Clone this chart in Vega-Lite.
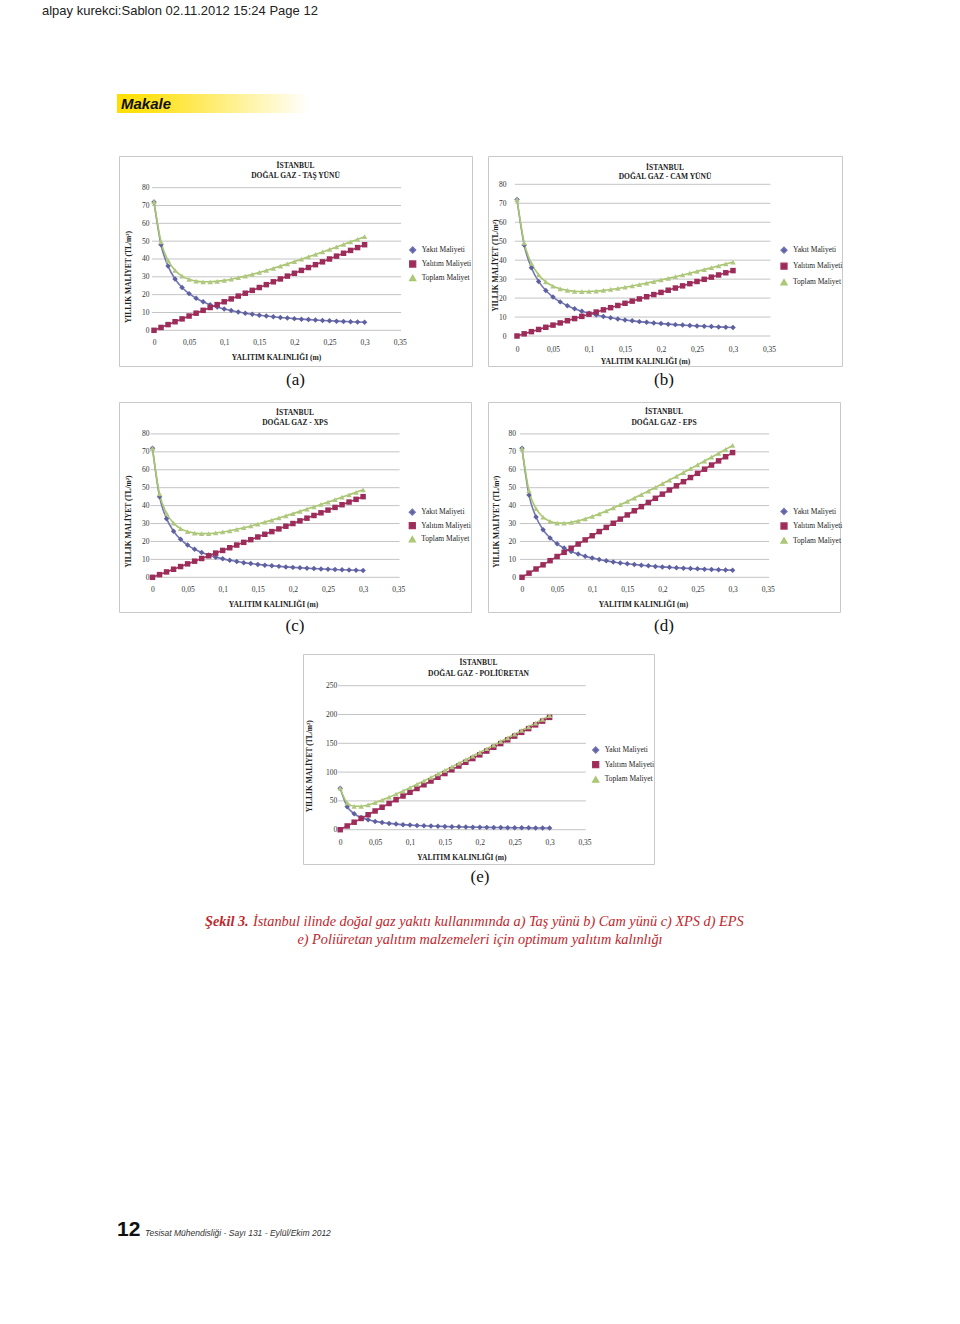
{
"$schema": "https://vega.github.io/schema/vega-lite/v6.json",
"padding": 0,
"background": "white",
"spacing": 0,
"bounds": "full",
"resolve": {"scale": {"color": "independent", "shape": "independent", "fill": "independent"}, "legend": {"color": "independent", "shape": "independent", "fill": "independent"}},
"config": {
  "view": {"stroke": null},
  "concat": {"spacing": 0},
  "axis": {"labelFont": "Liberation Serif", "labelFontSize": 7.5, "labelColor": "#333", "titleFont": "Liberation Serif", "titleFontSize": 7.5, "titleFontWeight": "bold", "titleColor": "#222", "ticks": false, "domain": false, "grid": false, "labelFlush": false, "labelOverlap": false, "labelBound": false, "titleAlign": "center", "titleBaseline": "middle"},
  "legend": {"padding": 0, "labelFont": "Liberation Serif", "labelFontSize": 7.5, "labelColor": "#222", "symbolSize": 36, "labelOffset": 5},
  "title": {"font": "Liberation Serif", "fontSize": 7.5, "fontWeight": "bold", "color": "#222", "anchor": "middle", "frame": "group", "lineHeight": 10}
},
"datasets": {
"a": [
{"x":0,"Yakıt Maliyeti":72,"Yalıtım Maliyeti":0,"Toplam Maliyet":72},
{"x":0.01,"Yakıt Maliyeti":48,"Yalıtım Maliyeti":1.6,"Toplam Maliyet":49.6},
{"x":0.02,"Yakıt Maliyeti":36,"Yalıtım Maliyeti":3.2,"Toplam Maliyet":39.2},
{"x":0.03,"Yakıt Maliyeti":28.8,"Yalıtım Maliyeti":4.8,"Toplam Maliyet":33.6},
{"x":0.04,"Yakıt Maliyeti":24,"Yalıtım Maliyeti":6.4,"Toplam Maliyet":30.4},
{"x":0.05,"Yakıt Maliyeti":20.57,"Yalıtım Maliyeti":8,"Toplam Maliyet":28.57},
{"x":0.06,"Yakıt Maliyeti":18,"Yalıtım Maliyeti":9.6,"Toplam Maliyet":27.6},
{"x":0.07,"Yakıt Maliyeti":16,"Yalıtım Maliyeti":11.2,"Toplam Maliyet":27.2},
{"x":0.08,"Yakıt Maliyeti":14.4,"Yalıtım Maliyeti":12.8,"Toplam Maliyet":27.2},
{"x":0.09,"Yakıt Maliyeti":13.09,"Yalıtım Maliyeti":14.4,"Toplam Maliyet":27.49},
{"x":0.1,"Yakıt Maliyeti":12,"Yalıtım Maliyeti":16,"Toplam Maliyet":28},
{"x":0.11,"Yakıt Maliyeti":11.08,"Yalıtım Maliyeti":17.6,"Toplam Maliyet":28.68},
{"x":0.12,"Yakıt Maliyeti":10.29,"Yalıtım Maliyeti":19.2,"Toplam Maliyet":29.49},
{"x":0.13,"Yakıt Maliyeti":9.6,"Yalıtım Maliyeti":20.8,"Toplam Maliyet":30.4},
{"x":0.14,"Yakıt Maliyeti":9,"Yalıtım Maliyeti":22.4,"Toplam Maliyet":31.4},
{"x":0.15,"Yakıt Maliyeti":8.47,"Yalıtım Maliyeti":24,"Toplam Maliyet":32.47},
{"x":0.16,"Yakıt Maliyeti":8,"Yalıtım Maliyeti":25.6,"Toplam Maliyet":33.6},
{"x":0.17,"Yakıt Maliyeti":7.58,"Yalıtım Maliyeti":27.2,"Toplam Maliyet":34.78},
{"x":0.18,"Yakıt Maliyeti":7.2,"Yalıtım Maliyeti":28.8,"Toplam Maliyet":36},
{"x":0.19,"Yakıt Maliyeti":6.86,"Yalıtım Maliyeti":30.4,"Toplam Maliyet":37.26},
{"x":0.2,"Yakıt Maliyeti":6.55,"Yalıtım Maliyeti":32,"Toplam Maliyet":38.55},
{"x":0.21,"Yakıt Maliyeti":6.26,"Yalıtım Maliyeti":33.6,"Toplam Maliyet":39.86},
{"x":0.22,"Yakıt Maliyeti":6,"Yalıtım Maliyeti":35.2,"Toplam Maliyet":41.2},
{"x":0.23,"Yakıt Maliyeti":5.76,"Yalıtım Maliyeti":36.8,"Toplam Maliyet":42.56},
{"x":0.24,"Yakıt Maliyeti":5.54,"Yalıtım Maliyeti":38.4,"Toplam Maliyet":43.94},
{"x":0.25,"Yakıt Maliyeti":5.33,"Yalıtım Maliyeti":40,"Toplam Maliyet":45.33},
{"x":0.26,"Yakıt Maliyeti":5.14,"Yalıtım Maliyeti":41.6,"Toplam Maliyet":46.74},
{"x":0.27,"Yakıt Maliyeti":4.97,"Yalıtım Maliyeti":43.2,"Toplam Maliyet":48.17},
{"x":0.28,"Yakıt Maliyeti":4.8,"Yalıtım Maliyeti":44.8,"Toplam Maliyet":49.6},
{"x":0.29,"Yakıt Maliyeti":4.65,"Yalıtım Maliyeti":46.4,"Toplam Maliyet":51.05},
{"x":0.3,"Yakıt Maliyeti":4.5,"Yalıtım Maliyeti":48,"Toplam Maliyet":52.5}
],
"b": [
{"x":0,"Yakıt Maliyeti":72,"Yalıtım Maliyeti":0,"Toplam Maliyet":72},
{"x":0.01,"Yakıt Maliyeti":48,"Yalıtım Maliyeti":1.15,"Toplam Maliyet":49.15},
{"x":0.02,"Yakıt Maliyeti":36,"Yalıtım Maliyeti":2.3,"Toplam Maliyet":38.3},
{"x":0.03,"Yakıt Maliyeti":28.8,"Yalıtım Maliyeti":3.45,"Toplam Maliyet":32.25},
{"x":0.04,"Yakıt Maliyeti":24,"Yalıtım Maliyeti":4.6,"Toplam Maliyet":28.6},
{"x":0.05,"Yakıt Maliyeti":20.57,"Yalıtım Maliyeti":5.75,"Toplam Maliyet":26.32},
{"x":0.06,"Yakıt Maliyeti":18,"Yalıtım Maliyeti":6.9,"Toplam Maliyet":24.9},
{"x":0.07,"Yakıt Maliyeti":16,"Yalıtım Maliyeti":8.05,"Toplam Maliyet":24.05},
{"x":0.08,"Yakıt Maliyeti":14.4,"Yalıtım Maliyeti":9.2,"Toplam Maliyet":23.6},
{"x":0.09,"Yakıt Maliyeti":13.09,"Yalıtım Maliyeti":10.35,"Toplam Maliyet":23.44},
{"x":0.1,"Yakıt Maliyeti":12,"Yalıtım Maliyeti":11.5,"Toplam Maliyet":23.5},
{"x":0.11,"Yakıt Maliyeti":11.08,"Yalıtım Maliyeti":12.65,"Toplam Maliyet":23.73},
{"x":0.12,"Yakıt Maliyeti":10.29,"Yalıtım Maliyeti":13.8,"Toplam Maliyet":24.09},
{"x":0.13,"Yakıt Maliyeti":9.6,"Yalıtım Maliyeti":14.95,"Toplam Maliyet":24.55},
{"x":0.14,"Yakıt Maliyeti":9,"Yalıtım Maliyeti":16.1,"Toplam Maliyet":25.1},
{"x":0.15,"Yakıt Maliyeti":8.47,"Yalıtım Maliyeti":17.25,"Toplam Maliyet":25.72},
{"x":0.16,"Yakıt Maliyeti":8,"Yalıtım Maliyeti":18.4,"Toplam Maliyet":26.4},
{"x":0.17,"Yakıt Maliyeti":7.58,"Yalıtım Maliyeti":19.55,"Toplam Maliyet":27.13},
{"x":0.18,"Yakıt Maliyeti":7.2,"Yalıtım Maliyeti":20.7,"Toplam Maliyet":27.9},
{"x":0.19,"Yakıt Maliyeti":6.86,"Yalıtım Maliyeti":21.85,"Toplam Maliyet":28.71},
{"x":0.2,"Yakıt Maliyeti":6.55,"Yalıtım Maliyeti":23,"Toplam Maliyet":29.55},
{"x":0.21,"Yakıt Maliyeti":6.26,"Yalıtım Maliyeti":24.15,"Toplam Maliyet":30.41},
{"x":0.22,"Yakıt Maliyeti":6,"Yalıtım Maliyeti":25.3,"Toplam Maliyet":31.3},
{"x":0.23,"Yakıt Maliyeti":5.76,"Yalıtım Maliyeti":26.45,"Toplam Maliyet":32.21},
{"x":0.24,"Yakıt Maliyeti":5.54,"Yalıtım Maliyeti":27.6,"Toplam Maliyet":33.14},
{"x":0.25,"Yakıt Maliyeti":5.33,"Yalıtım Maliyeti":28.75,"Toplam Maliyet":34.08},
{"x":0.26,"Yakıt Maliyeti":5.14,"Yalıtım Maliyeti":29.9,"Toplam Maliyet":35.04},
{"x":0.27,"Yakıt Maliyeti":4.97,"Yalıtım Maliyeti":31.05,"Toplam Maliyet":36.02},
{"x":0.28,"Yakıt Maliyeti":4.8,"Yalıtım Maliyeti":32.2,"Toplam Maliyet":37},
{"x":0.29,"Yakıt Maliyeti":4.65,"Yalıtım Maliyeti":33.35,"Toplam Maliyet":38},
{"x":0.3,"Yakıt Maliyeti":4.5,"Yalıtım Maliyeti":34.5,"Toplam Maliyet":39}
],
"c": [
{"x":0,"Yakıt Maliyeti":72,"Yalıtım Maliyeti":0,"Toplam Maliyet":72},
{"x":0.01,"Yakıt Maliyeti":45,"Yalıtım Maliyeti":1.5,"Toplam Maliyet":46.5},
{"x":0.02,"Yakıt Maliyeti":32.73,"Yalıtım Maliyeti":3,"Toplam Maliyet":35.73},
{"x":0.03,"Yakıt Maliyeti":25.71,"Yalıtım Maliyeti":4.5,"Toplam Maliyet":30.21},
{"x":0.04,"Yakıt Maliyeti":21.18,"Yalıtım Maliyeti":6,"Toplam Maliyet":27.18},
{"x":0.05,"Yakıt Maliyeti":18,"Yalıtım Maliyeti":7.5,"Toplam Maliyet":25.5},
{"x":0.06,"Yakıt Maliyeti":15.65,"Yalıtım Maliyeti":9,"Toplam Maliyet":24.65},
{"x":0.07,"Yakıt Maliyeti":13.85,"Yalıtım Maliyeti":10.5,"Toplam Maliyet":24.35},
{"x":0.08,"Yakıt Maliyeti":12.41,"Yalıtım Maliyeti":12,"Toplam Maliyet":24.41},
{"x":0.09,"Yakıt Maliyeti":11.25,"Yalıtım Maliyeti":13.5,"Toplam Maliyet":24.75},
{"x":0.1,"Yakıt Maliyeti":10.29,"Yalıtım Maliyeti":15,"Toplam Maliyet":25.29},
{"x":0.11,"Yakıt Maliyeti":9.47,"Yalıtım Maliyeti":16.5,"Toplam Maliyet":25.97},
{"x":0.12,"Yakıt Maliyeti":8.78,"Yalıtım Maliyeti":18,"Toplam Maliyet":26.78},
{"x":0.13,"Yakıt Maliyeti":8.18,"Yalıtım Maliyeti":19.5,"Toplam Maliyet":27.68},
{"x":0.14,"Yakıt Maliyeti":7.66,"Yalıtım Maliyeti":21,"Toplam Maliyet":28.66},
{"x":0.15,"Yakıt Maliyeti":7.2,"Yalıtım Maliyeti":22.5,"Toplam Maliyet":29.7},
{"x":0.16,"Yakıt Maliyeti":6.79,"Yalıtım Maliyeti":24,"Toplam Maliyet":30.79},
{"x":0.17,"Yakıt Maliyeti":6.43,"Yalıtım Maliyeti":25.5,"Toplam Maliyet":31.93},
{"x":0.18,"Yakıt Maliyeti":6.1,"Yalıtım Maliyeti":27,"Toplam Maliyet":33.1},
{"x":0.19,"Yakıt Maliyeti":5.81,"Yalıtım Maliyeti":28.5,"Toplam Maliyet":34.31},
{"x":0.2,"Yakıt Maliyeti":5.54,"Yalıtım Maliyeti":30,"Toplam Maliyet":35.54},
{"x":0.21,"Yakıt Maliyeti":5.29,"Yalıtım Maliyeti":31.5,"Toplam Maliyet":36.79},
{"x":0.22,"Yakıt Maliyeti":5.07,"Yalıtım Maliyeti":33,"Toplam Maliyet":38.07},
{"x":0.23,"Yakıt Maliyeti":4.86,"Yalıtım Maliyeti":34.5,"Toplam Maliyet":39.36},
{"x":0.24,"Yakıt Maliyeti":4.68,"Yalıtım Maliyeti":36,"Toplam Maliyet":40.68},
{"x":0.25,"Yakıt Maliyeti":4.5,"Yalıtım Maliyeti":37.5,"Toplam Maliyet":42},
{"x":0.26,"Yakıt Maliyeti":4.34,"Yalıtım Maliyeti":39,"Toplam Maliyet":43.34},
{"x":0.27,"Yakıt Maliyeti":4.19,"Yalıtım Maliyeti":40.5,"Toplam Maliyet":44.69},
{"x":0.28,"Yakıt Maliyeti":4.04,"Yalıtım Maliyeti":42,"Toplam Maliyet":46.04},
{"x":0.29,"Yakıt Maliyeti":3.91,"Yalıtım Maliyeti":43.5,"Toplam Maliyet":47.41},
{"x":0.3,"Yakıt Maliyeti":3.79,"Yalıtım Maliyeti":45,"Toplam Maliyet":48.79}
],
"d": [
{"x":0,"Yakıt Maliyeti":72,"Yalıtım Maliyeti":0,"Toplam Maliyet":72},
{"x":0.01,"Yakıt Maliyeti":45.86,"Yalıtım Maliyeti":2.32,"Toplam Maliyet":48.18},
{"x":0.02,"Yakıt Maliyeti":33.64,"Yalıtım Maliyeti":4.64,"Toplam Maliyet":38.28},
{"x":0.03,"Yakıt Maliyeti":26.57,"Yalıtım Maliyeti":6.96,"Toplam Maliyet":33.53},
{"x":0.04,"Yakıt Maliyeti":21.95,"Yalıtım Maliyeti":9.28,"Toplam Maliyet":31.23},
{"x":0.05,"Yakıt Maliyeti":18.7,"Yalıtım Maliyeti":11.6,"Toplam Maliyet":30.3},
{"x":0.06,"Yakıt Maliyeti":16.29,"Yalıtım Maliyeti":13.92,"Toplam Maliyet":30.21},
{"x":0.07,"Yakıt Maliyeti":14.43,"Yalıtım Maliyeti":16.24,"Toplam Maliyet":30.67},
{"x":0.08,"Yakıt Maliyeti":12.95,"Yalıtım Maliyeti":18.56,"Toplam Maliyet":31.51},
{"x":0.09,"Yakıt Maliyeti":11.75,"Yalıtım Maliyeti":20.88,"Toplam Maliyet":32.63},
{"x":0.1,"Yakıt Maliyeti":10.75,"Yalıtım Maliyeti":23.2,"Toplam Maliyet":33.95},
{"x":0.11,"Yakıt Maliyeti":9.9,"Yalıtım Maliyeti":25.52,"Toplam Maliyet":35.42},
{"x":0.12,"Yakıt Maliyeti":9.18,"Yalıtım Maliyeti":27.84,"Toplam Maliyet":37.02},
{"x":0.13,"Yakıt Maliyeti":8.56,"Yalıtım Maliyeti":30.16,"Toplam Maliyet":38.72},
{"x":0.14,"Yakıt Maliyeti":8.02,"Yalıtım Maliyeti":32.48,"Toplam Maliyet":40.5},
{"x":0.15,"Yakıt Maliyeti":7.54,"Yalıtım Maliyeti":34.8,"Toplam Maliyet":42.34},
{"x":0.16,"Yakıt Maliyeti":7.11,"Yalıtım Maliyeti":37.12,"Toplam Maliyet":44.23},
{"x":0.17,"Yakıt Maliyeti":6.74,"Yalıtım Maliyeti":39.44,"Toplam Maliyet":46.18},
{"x":0.18,"Yakıt Maliyeti":6.39,"Yalıtım Maliyeti":41.76,"Toplam Maliyet":48.15},
{"x":0.19,"Yakıt Maliyeti":6.09,"Yalıtım Maliyeti":44.08,"Toplam Maliyet":50.17},
{"x":0.2,"Yakıt Maliyeti":5.81,"Yalıtım Maliyeti":46.4,"Toplam Maliyet":52.21},
{"x":0.21,"Yakıt Maliyeti":5.55,"Yalıtım Maliyeti":48.72,"Toplam Maliyet":54.27},
{"x":0.22,"Yakıt Maliyeti":5.32,"Yalıtım Maliyeti":51.04,"Toplam Maliyet":56.36},
{"x":0.23,"Yakıt Maliyeti":5.1,"Yalıtım Maliyeti":53.36,"Toplam Maliyet":58.46},
{"x":0.24,"Yakıt Maliyeti":4.9,"Yalıtım Maliyeti":55.68,"Toplam Maliyet":60.58},
{"x":0.25,"Yakıt Maliyeti":4.72,"Yalıtım Maliyeti":58,"Toplam Maliyet":62.72},
{"x":0.26,"Yakıt Maliyeti":4.55,"Yalıtım Maliyeti":60.32,"Toplam Maliyet":64.87},
{"x":0.27,"Yakıt Maliyeti":4.39,"Yalıtım Maliyeti":62.64,"Toplam Maliyet":67.03},
{"x":0.28,"Yakıt Maliyeti":4.25,"Yalıtım Maliyeti":64.96,"Toplam Maliyet":69.21},
{"x":0.29,"Yakıt Maliyeti":4.11,"Yalıtım Maliyeti":67.28,"Toplam Maliyet":71.39},
{"x":0.3,"Yakıt Maliyeti":3.98,"Yalıtım Maliyeti":69.6,"Toplam Maliyet":73.58}
],
"e": [
{"x":0,"Yakıt Maliyeti":72,"Yalıtım Maliyeti":0,"Toplam Maliyet":72},
{"x":0.01,"Yakıt Maliyeti":40,"Yalıtım Maliyeti":6.5,"Toplam Maliyet":46.5},
{"x":0.02,"Yakıt Maliyeti":27.69,"Yalıtım Maliyeti":13,"Toplam Maliyet":40.69},
{"x":0.03,"Yakıt Maliyeti":21.18,"Yalıtım Maliyeti":19.5,"Toplam Maliyet":40.68},
{"x":0.04,"Yakıt Maliyeti":17.14,"Yalıtım Maliyeti":26,"Toplam Maliyet":43.14},
{"x":0.05,"Yakıt Maliyeti":14.4,"Yalıtım Maliyeti":32.5,"Toplam Maliyet":46.9},
{"x":0.06,"Yakıt Maliyeti":12.41,"Yalıtım Maliyeti":39,"Toplam Maliyet":51.41},
{"x":0.07,"Yakıt Maliyeti":10.91,"Yalıtım Maliyeti":45.5,"Toplam Maliyet":56.41},
{"x":0.08,"Yakıt Maliyeti":9.73,"Yalıtım Maliyeti":52,"Toplam Maliyet":61.73},
{"x":0.09,"Yakıt Maliyeti":8.78,"Yalıtım Maliyeti":58.5,"Toplam Maliyet":67.28},
{"x":0.1,"Yakıt Maliyeti":8,"Yalıtım Maliyeti":65,"Toplam Maliyet":73},
{"x":0.11,"Yakıt Maliyeti":7.35,"Yalıtım Maliyeti":71.5,"Toplam Maliyet":78.85},
{"x":0.12,"Yakıt Maliyeti":6.79,"Yalıtım Maliyeti":78,"Toplam Maliyet":84.79},
{"x":0.13,"Yakıt Maliyeti":6.32,"Yalıtım Maliyeti":84.5,"Toplam Maliyet":90.82},
{"x":0.14,"Yakıt Maliyeti":5.9,"Yalıtım Maliyeti":91,"Toplam Maliyet":96.9},
{"x":0.15,"Yakıt Maliyeti":5.54,"Yalıtım Maliyeti":97.5,"Toplam Maliyet":103.04},
{"x":0.16,"Yakıt Maliyeti":5.22,"Yalıtım Maliyeti":104,"Toplam Maliyet":109.22},
{"x":0.17,"Yakıt Maliyeti":4.93,"Yalıtım Maliyeti":110.5,"Toplam Maliyet":115.43},
{"x":0.18,"Yakıt Maliyeti":4.68,"Yalıtım Maliyeti":117,"Toplam Maliyet":121.68},
{"x":0.19,"Yakıt Maliyeti":4.44,"Yalıtım Maliyeti":123.5,"Toplam Maliyet":127.94},
{"x":0.2,"Yakıt Maliyeti":4.24,"Yalıtım Maliyeti":130,"Toplam Maliyet":134.24},
{"x":0.21,"Yakıt Maliyeti":4.04,"Yalıtım Maliyeti":136.5,"Toplam Maliyet":140.54},
{"x":0.22,"Yakıt Maliyeti":3.87,"Yalıtım Maliyeti":143,"Toplam Maliyet":146.87},
{"x":0.23,"Yakıt Maliyeti":3.71,"Yalıtım Maliyeti":149.5,"Toplam Maliyet":153.21},
{"x":0.24,"Yakıt Maliyeti":3.56,"Yalıtım Maliyeti":156,"Toplam Maliyet":159.56},
{"x":0.25,"Yakıt Maliyeti":3.43,"Yalıtım Maliyeti":162.5,"Toplam Maliyet":165.93},
{"x":0.26,"Yakıt Maliyeti":3.3,"Yalıtım Maliyeti":169,"Toplam Maliyet":172.3},
{"x":0.27,"Yakıt Maliyeti":3.19,"Yalıtım Maliyeti":175.5,"Toplam Maliyet":178.69},
{"x":0.28,"Yakıt Maliyeti":3.08,"Yalıtım Maliyeti":182,"Toplam Maliyet":185.08},
{"x":0.29,"Yakıt Maliyeti":2.98,"Yalıtım Maliyeti":188.5,"Toplam Maliyet":191.48},
{"x":0.3,"Yakıt Maliyeti":2.88,"Yalıtım Maliyeti":195,"Toplam Maliyet":197.88}
]
},
"vconcat": [
{"width": 84, "height": 22, "data": {"values": [{"t": "alpay kurekci:Sablon  02.11.2012  15:24  Page 12"}]}, "mark": {"type": "text", "align": "left", "baseline": "middle", "font": "Liberation Sans Narrow, Liberation Sans, sans-serif", "fontSize": 13, "color": "#222"}, "encoding": {"text": {"field": "t"}}},
{"width": 1, "height": 72, "data": {"values": [{}]}, "mark": {"type": "text", "text": "", "fontSize": 1}},
{"hconcat": [
  {"width": 117, "height": 19, "data": {"values": [{}]}, "mark": {"type": "text", "text": "", "fontSize": 1}},
  {"width": 193, "height": 19, "view": {"stroke": null, "fill": {"gradient": "linear", "x1": 0, "y1": 0, "x2": 1, "y2": 0, "stops": [{"offset": 0, "color": "#FFDF00"}, {"offset": 0.22, "color": "#FFE324"}, {"offset": 1, "color": "#FFFFFF"}]}}, "data": {"values": [{"t": "Makale"}]}, "mark": {"type": "text", "align": "left", "baseline": "middle", "dx": 4, "font": "Liberation Sans Narrow, Liberation Sans, sans-serif", "fontSize": 15, "fontWeight": "bold", "fontStyle": "italic", "color": "#111"}, "encoding": {"text": {"field": "t"}, "x": {"datum": 0, "type": "quantitative", "scale": {"domain": [0, 1]}, "axis": null}}}
], "spacing": 0, "bounds": "flush"},
{"width": 1, "height": 42, "data": {"values": [{}]}, "mark": {"type": "text", "text": "", "fontSize": 1}},
{"hconcat": [
  {"width": 119, "height": 210, "data": {"values": [{}]}, "mark": {"type": "text", "text": "", "fontSize": 1}},
  {"width": 353, "height": 210, "view": {"stroke": "#c9c9c9", "strokeWidth": 1},
   "title": {"text": ["İSTANBUL", "DOĞAL GAZ - TAŞ YÜNÜ"], "offset": -23.6, "lineHeight": 10},
   "data": {"name": "a"},
   "encoding": {"y": {"field": "v", "type": "quantitative", "scale": {"domain": [-20.02, 97.76], "nice": false, "zero": false}, "axis": {"title": "YILLIK MALİYET  (TL/m²)", "values": [0, 10, 20, 30, 40, 50, 60, 70, 80], "offset": -35, "labelPadding": 5, "titleX": -26, "titleY": 120.5, "titleAngle": -90}}},
   "layer": [
     {"data": {"values": [{"v": 0}, {"v": 10}, {"v": 20}, {"v": 30}, {"v": 40}, {"v": 50}, {"v": 60}, {"v": 70}, {"v": 80}]}, "mark": {"type": "rule", "color": "#c4c4c4", "strokeWidth": 1},
      "encoding": {"x": {"datum": -0.003, "type": "quantitative", "scale": {"domain": [-0.04986, 0.45299], "nice": false, "zero": false}}, "x2": {"datum": 0.352}}},
     {"transform": [{"fold": ["Yakıt Maliyeti", "Yalıtım Maliyeti", "Toplam Maliyet"], "as": ["s", "v"]}], "mark": {"type": "line", "interpolate": "monotone", "strokeWidth": 1.6},
      "encoding": {
        "x": {"field": "x", "type": "quantitative", "scale": {"domain": [-0.04986, 0.45299], "nice": false, "zero": false}, "axis": {"title": "YALITIM KALINLIĞI  (m)", "values": [0, 0.05, 0.1, 0.15, 0.2, 0.25, 0.3, 0.35], "format": ".2~f", "labelExpr": "replace(datum.label, '.', ',')", "offset": -35.7, "labelPadding": 8.5, "titleX": 157, "titleY": 27.4}},
        "color": {"field": "s", "type": "nominal", "scale": {"domain": ["Yakıt Maliyeti", "Yalıtım Maliyeti", "Toplam Maliyet"], "range": ["#7476B4", "#A3325F", "#A6C86A"]},
          "legend": {"title": null, "orient": "none", "legendX": 289.7, "legendY": 90, "rowPadding": 2,
            "encode": {"symbols": {"update": {
              "shape": {"signal": "datum.value === 'Yakıt Maliyeti' ? 'M-2.1,0H2.1M0,-0.95L0.8,0L0,0.95L-0.8,0Z' : datum.value === 'Yalıtım Maliyeti' ? 'M-2.1,0H2.1M-0.75,-0.75H0.75V0.75H-0.75Z' : 'M-2.1,0H2.1M0,-0.85L0.9,0.7H-0.9Z'"},
              "stroke": {"signal": "datum.value === 'Yakıt Maliyeti' ? '#7476B4' : datum.value === 'Yalıtım Maliyeti' ? '#A3325F' : '#A6C86A'"},
              "fill": {"signal": "datum.value === 'Yakıt Maliyeti' ? '#5E60A0' : datum.value === 'Yalıtım Maliyeti' ? '#9C2C5A' : '#B2C684'"},
              "strokeWidth": {"value": 1.3}, "opacity": {"value": 1}}}}}}}},
     {"transform": [{"fold": ["Yakıt Maliyeti", "Yalıtım Maliyeti", "Toplam Maliyet"], "as": ["s", "v"]}], "mark": {"type": "point", "filled": true, "size": 30, "opacity": 1},
      "encoding": {
        "x": {"field": "x", "type": "quantitative", "scale": {"domain": [-0.04986, 0.45299], "nice": false, "zero": false}},
        "fill": {"field": "s", "type": "nominal", "scale": {"domain": ["Yakıt Maliyeti", "Yalıtım Maliyeti", "Toplam Maliyet"], "range": ["#5E60A0", "#9C2C5A", "#B2C684"]}, "legend": null},
        "shape": {"field": "s", "type": "nominal", "scale": {"domain": ["Yakıt Maliyeti", "Yalıtım Maliyeti", "Toplam Maliyet"], "range": ["diamond", "square", "triangle-up"]}, "legend": null}}}
   ]},
  {"width": 16, "height": 210, "data": {"values": [{}]}, "mark": {"type": "text", "text": "", "fontSize": 1}},
  {"width": 354, "height": 210, "view": {"stroke": "#c9c9c9", "strokeWidth": 1},
   "title": {"text": ["İSTANBUL", "DOĞAL GAZ - CAM YÜNÜ"], "offset": -24.6, "lineHeight": 9.5},
   "data": {"name": "b"},
   "encoding": {"y": {"field": "v", "type": "quantitative", "scale": {"domain": [-15.82, 94.94], "nice": false, "zero": false}, "axis": {"title": "YILLIK MALİYET  (TL/m²)", "values": [0, 10, 20, 30, 40, 50, 60, 70, 80], "offset": -29, "labelPadding": 11, "titleX": -21.7, "titleY": 109, "titleAngle": -90}}},
   "layer": [
     {"data": {"values": [{"v": 0}, {"v": 10}, {"v": 20}, {"v": 30}, {"v": 40}, {"v": 50}, {"v": 60}, {"v": 70}, {"v": 80}]}, "mark": {"type": "rule", "color": "#c4c4c4", "strokeWidth": 1},
      "encoding": {"x": {"datum": -0.003, "type": "quantitative", "scale": {"domain": [-0.04028, 0.45139], "nice": false, "zero": false}}, "x2": {"datum": 0.352}}},
     {"transform": [{"fold": ["Yakıt Maliyeti", "Yalıtım Maliyeti", "Toplam Maliyet"], "as": ["s", "v"]}], "mark": {"type": "line", "interpolate": "monotone", "strokeWidth": 1.6},
      "encoding": {
        "x": {"field": "x", "type": "quantitative", "scale": {"domain": [-0.04028, 0.45139], "nice": false, "zero": false}, "axis": {"title": "YALITIM KALINLIĞI  (m)", "values": [0, 0.05, 0.1, 0.15, 0.2, 0.25, 0.3, 0.35], "format": ".2~f", "labelExpr": "replace(datum.label, '.', ',')", "offset": -30, "labelPadding": 9.5, "titleX": 157, "titleY": 25}},
        "color": {"field": "s", "type": "nominal", "scale": {"domain": ["Yakıt Maliyeti", "Yalıtım Maliyeti", "Toplam Maliyet"], "range": ["#7476B4", "#A3325F", "#A6C86A"]},
          "legend": {"title": null, "orient": "none", "legendX": 292, "legendY": 90.2, "rowPadding": 4,
            "encode": {"symbols": {"update": {
              "shape": {"signal": "datum.value === 'Yakıt Maliyeti' ? 'M-2.1,0H2.1M0,-0.95L0.8,0L0,0.95L-0.8,0Z' : datum.value === 'Yalıtım Maliyeti' ? 'M-2.1,0H2.1M-0.75,-0.75H0.75V0.75H-0.75Z' : 'M-2.1,0H2.1M0,-0.85L0.9,0.7H-0.9Z'"},
              "stroke": {"signal": "datum.value === 'Yakıt Maliyeti' ? '#7476B4' : datum.value === 'Yalıtım Maliyeti' ? '#A3325F' : '#A6C86A'"},
              "fill": {"signal": "datum.value === 'Yakıt Maliyeti' ? '#5E60A0' : datum.value === 'Yalıtım Maliyeti' ? '#9C2C5A' : '#B2C684'"},
              "strokeWidth": {"value": 1.3}, "opacity": {"value": 1}}}}}}}},
     {"transform": [{"fold": ["Yakıt Maliyeti", "Yalıtım Maliyeti", "Toplam Maliyet"], "as": ["s", "v"]}], "mark": {"type": "point", "filled": true, "size": 30, "opacity": 1},
      "encoding": {
        "x": {"field": "x", "type": "quantitative", "scale": {"domain": [-0.04028, 0.45139], "nice": false, "zero": false}},
        "fill": {"field": "s", "type": "nominal", "scale": {"domain": ["Yakıt Maliyeti", "Yalıtım Maliyeti", "Toplam Maliyet"], "range": ["#5E60A0", "#9C2C5A", "#B2C684"]}, "legend": null},
        "shape": {"field": "s", "type": "nominal", "scale": {"domain": ["Yakıt Maliyeti", "Yalıtım Maliyeti", "Toplam Maliyet"], "range": ["diamond", "square", "triangle-up"]}, "legend": null}}}
   ]}
], "spacing": 0, "bounds": "flush", "resolve": {"scale": {"color": "independent", "shape": "independent", "fill": "independent"}, "legend": {"color": "independent", "shape": "independent", "fill": "independent"}}},
{"hconcat": [
  {"width": 119, "height": 26, "data": {"values": [{}]}, "mark": {"type": "text", "text": "", "fontSize": 1}},
  {"width": 353, "height": 26, "data": {"values": [{"t": "(a)"}]}, "mark": {"type": "text", "baseline": "middle", "font": "Liberation Serif", "fontSize": 17, "color": "#111"}, "encoding": {"text": {"field": "t"}}},
  {"width": 16, "height": 26, "data": {"values": [{}]}, "mark": {"type": "text", "text": "", "fontSize": 1}},
  {"width": 352, "height": 26, "data": {"values": [{"t": "(b)"}]}, "mark": {"type": "text", "baseline": "middle", "font": "Liberation Serif", "fontSize": 17, "color": "#111"}, "encoding": {"text": {"field": "t"}}}
], "spacing": 0, "bounds": "flush"},
{"width": 1, "height": 8, "data": {"values": [{}]}, "mark": {"type": "text", "text": "", "fontSize": 1}},
{"hconcat": [
  {"width": 119, "height": 210, "data": {"values": [{}]}, "mark": {"type": "text", "text": "", "fontSize": 1}},
  {"width": 352, "height": 210, "view": {"stroke": "#c9c9c9", "strokeWidth": 1},
   "title": {"text": ["İSTANBUL", "DOĞAL GAZ - XPS"], "offset": -24, "lineHeight": 10},
   "data": {"name": "c"},
   "encoding": {"y": {"field": "v", "type": "quantitative", "scale": {"domain": [-19.36, 97.82], "nice": false, "zero": false}, "axis": {"title": "YILLIK MALİYET  (TL/m²)", "values": [0, 10, 20, 30, 40, 50, 60, 70, 80], "offset": -33.5, "labelPadding": 3.5, "titleX": -24.5, "titleY": 119, "titleAngle": -90}}},
   "layer": [
     {"data": {"values": [{"v": 0}, {"v": 10}, {"v": 20}, {"v": 30}, {"v": 40}, {"v": 50}, {"v": 60}, {"v": 70}, {"v": 80}]}, "mark": {"type": "rule", "color": "#c4c4c4", "strokeWidth": 1},
      "encoding": {"x": {"datum": -0.003, "type": "quantitative", "scale": {"domain": [-0.04772, 0.4537], "nice": false, "zero": false}}, "x2": {"datum": 0.352}}},
     {"transform": [{"fold": ["Yakıt Maliyeti", "Yalıtım Maliyeti", "Toplam Maliyet"], "as": ["s", "v"]}], "mark": {"type": "line", "interpolate": "monotone", "strokeWidth": 1.6},
      "encoding": {
        "x": {"field": "x", "type": "quantitative", "scale": {"domain": [-0.04772, 0.4537], "nice": false, "zero": false}, "axis": {"title": "YALITIM KALINLIĞI  (m)", "values": [0, 0.05, 0.1, 0.15, 0.2, 0.25, 0.3, 0.35], "format": ".2~f", "labelExpr": "replace(datum.label, '.', ',')", "offset": -34.7, "labelPadding": 8.5, "titleX": 154, "titleY": 27.4}},
        "color": {"field": "s", "type": "nominal", "scale": {"domain": ["Yakıt Maliyeti", "Yalıtım Maliyeti", "Toplam Maliyet"], "range": ["#7476B4", "#A3325F", "#A6C86A"]},
          "legend": {"title": null, "orient": "none", "legendX": 289.3, "legendY": 106.2, "rowPadding": 1.5,
            "encode": {"symbols": {"update": {
              "shape": {"signal": "datum.value === 'Yakıt Maliyeti' ? 'M-2.1,0H2.1M0,-0.95L0.8,0L0,0.95L-0.8,0Z' : datum.value === 'Yalıtım Maliyeti' ? 'M-2.1,0H2.1M-0.75,-0.75H0.75V0.75H-0.75Z' : 'M-2.1,0H2.1M0,-0.85L0.9,0.7H-0.9Z'"},
              "stroke": {"signal": "datum.value === 'Yakıt Maliyeti' ? '#7476B4' : datum.value === 'Yalıtım Maliyeti' ? '#A3325F' : '#A6C86A'"},
              "fill": {"signal": "datum.value === 'Yakıt Maliyeti' ? '#5E60A0' : datum.value === 'Yalıtım Maliyeti' ? '#9C2C5A' : '#B2C684'"},
              "strokeWidth": {"value": 1.3}, "opacity": {"value": 1}}}}}}}},
     {"transform": [{"fold": ["Yakıt Maliyeti", "Yalıtım Maliyeti", "Toplam Maliyet"], "as": ["s", "v"]}], "mark": {"type": "point", "filled": true, "size": 30, "opacity": 1},
      "encoding": {
        "x": {"field": "x", "type": "quantitative", "scale": {"domain": [-0.04772, 0.4537], "nice": false, "zero": false}},
        "fill": {"field": "s", "type": "nominal", "scale": {"domain": ["Yakıt Maliyeti", "Yalıtım Maliyeti", "Toplam Maliyet"], "range": ["#5E60A0", "#9C2C5A", "#B2C684"]}, "legend": null},
        "shape": {"field": "s", "type": "nominal", "scale": {"domain": ["Yakıt Maliyeti", "Yalıtım Maliyeti", "Toplam Maliyet"], "range": ["diamond", "square", "triangle-up"]}, "legend": null}}}
   ]},
  {"width": 17, "height": 210, "data": {"values": [{}]}, "mark": {"type": "text", "text": "", "fontSize": 1}},
  {"width": 352, "height": 210, "view": {"stroke": "#c9c9c9", "strokeWidth": 1},
   "title": {"text": ["İSTANBUL", "DOĞAL GAZ - EPS"], "offset": -24, "lineHeight": 11},
   "data": {"name": "d"},
   "encoding": {"y": {"field": "v", "type": "quantitative", "scale": {"domain": [-19.36, 97.82], "nice": false, "zero": false}, "axis": {"title": "YILLIK MALİYET  (TL/m²)", "values": [0, 10, 20, 30, 40, 50, 60, 70, 80], "offset": -34, "labelPadding": 6.5, "titleX": -25.7, "titleY": 119.3, "titleAngle": -90}}},
   "layer": [
     {"data": {"values": [{"v": 0}, {"v": 10}, {"v": 20}, {"v": 30}, {"v": 40}, {"v": 50}, {"v": 60}, {"v": 70}, {"v": 80}]}, "mark": {"type": "rule", "color": "#c4c4c4", "strokeWidth": 1},
      "encoding": {"x": {"datum": -0.003, "type": "quantitative", "scale": {"domain": [-0.04843, 0.45299], "nice": false, "zero": false}}, "x2": {"datum": 0.352}}},
     {"transform": [{"fold": ["Yakıt Maliyeti", "Yalıtım Maliyeti", "Toplam Maliyet"], "as": ["s", "v"]}], "mark": {"type": "line", "interpolate": "monotone", "strokeWidth": 1.6},
      "encoding": {
        "x": {"field": "x", "type": "quantitative", "scale": {"domain": [-0.04843, 0.45299], "nice": false, "zero": false}, "axis": {"title": "YALITIM KALINLIĞI  (m)", "values": [0, 0.05, 0.1, 0.15, 0.2, 0.25, 0.3, 0.35], "format": ".2~f", "labelExpr": "replace(datum.label, '.', ',')", "offset": -34.7, "labelPadding": 8.5, "titleX": 155, "titleY": 27.4}},
        "color": {"field": "s", "type": "nominal", "scale": {"domain": ["Yakıt Maliyeti", "Yalıtım Maliyeti", "Toplam Maliyet"], "range": ["#7476B4", "#A3325F", "#A6C86A"]},
          "legend": {"title": null, "orient": "none", "legendX": 292, "legendY": 105.5, "rowPadding": 2.5,
            "encode": {"symbols": {"update": {
              "shape": {"signal": "datum.value === 'Yakıt Maliyeti' ? 'M-2.1,0H2.1M0,-0.95L0.8,0L0,0.95L-0.8,0Z' : datum.value === 'Yalıtım Maliyeti' ? 'M-2.1,0H2.1M-0.75,-0.75H0.75V0.75H-0.75Z' : 'M-2.1,0H2.1M0,-0.85L0.9,0.7H-0.9Z'"},
              "stroke": {"signal": "datum.value === 'Yakıt Maliyeti' ? '#7476B4' : datum.value === 'Yalıtım Maliyeti' ? '#A3325F' : '#A6C86A'"},
              "fill": {"signal": "datum.value === 'Yakıt Maliyeti' ? '#5E60A0' : datum.value === 'Yalıtım Maliyeti' ? '#9C2C5A' : '#B2C684'"},
              "strokeWidth": {"value": 1.3}, "opacity": {"value": 1}}}}}}}},
     {"transform": [{"fold": ["Yakıt Maliyeti", "Yalıtım Maliyeti", "Toplam Maliyet"], "as": ["s", "v"]}], "mark": {"type": "point", "filled": true, "size": 30, "opacity": 1},
      "encoding": {
        "x": {"field": "x", "type": "quantitative", "scale": {"domain": [-0.04843, 0.45299], "nice": false, "zero": false}},
        "fill": {"field": "s", "type": "nominal", "scale": {"domain": ["Yakıt Maliyeti", "Yalıtım Maliyeti", "Toplam Maliyet"], "range": ["#5E60A0", "#9C2C5A", "#B2C684"]}, "legend": null},
        "shape": {"field": "s", "type": "nominal", "scale": {"domain": ["Yakıt Maliyeti", "Yalıtım Maliyeti", "Toplam Maliyet"], "range": ["diamond", "square", "triangle-up"]}, "legend": null}}}
   ]}
], "spacing": 0, "bounds": "flush", "resolve": {"scale": {"color": "independent", "shape": "independent", "fill": "independent"}, "legend": {"color": "independent", "shape": "independent", "fill": "independent"}}},
{"hconcat": [
  {"width": 119, "height": 26, "data": {"values": [{}]}, "mark": {"type": "text", "text": "", "fontSize": 1}},
  {"width": 352, "height": 26, "data": {"values": [{"t": "(c)"}]}, "mark": {"type": "text", "baseline": "middle", "font": "Liberation Serif", "fontSize": 17, "color": "#111"}, "encoding": {"text": {"field": "t"}}},
  {"width": 17, "height": 26, "data": {"values": [{}]}, "mark": {"type": "text", "text": "", "fontSize": 1}},
  {"width": 352, "height": 26, "data": {"values": [{"t": "(d)"}]}, "mark": {"type": "text", "baseline": "middle", "font": "Liberation Serif", "fontSize": 17, "color": "#111"}, "encoding": {"text": {"field": "t"}}}
], "spacing": 0, "bounds": "flush"},
{"width": 1, "height": 13.5, "data": {"values": [{}]}, "mark": {"type": "text", "text": "", "fontSize": 1}},
{"hconcat": [
  {"width": 303, "height": 210, "data": {"values": [{}]}, "mark": {"type": "text", "text": "", "fontSize": 1}},
  {"width": 351, "height": 210, "view": {"stroke": "#c9c9c9", "strokeWidth": 1},
   "title": {"text": ["İSTANBUL", "DOĞAL GAZ - POLİÜRETAN"], "offset": -23.7, "lineHeight": 11.7},
   "data": {"name": "e"},
   "encoding": {"y": {"field": "v", "type": "quantitative", "scale": {"domain": [-59.55, 305.03], "nice": false, "zero": false}, "axis": {"title": "YILLIK MALİYET  (TL/m²)", "values": [0, 50, 100, 150, 200, 250], "offset": -37.2, "labelPadding": 3.5, "titleX": -30.5, "titleY": 111.7, "titleAngle": -90}}},
   "layer": [
     {"data": {"values": [{"v": 0}, {"v": 50}, {"v": 100}, {"v": 150}, {"v": 200}, {"v": 250}]}, "mark": {"type": "rule", "color": "#c4c4c4", "strokeWidth": 1},
      "encoding": {"x": {"datum": -0.003, "type": "quantitative", "scale": {"domain": [-0.0533, 0.44957], "nice": false, "zero": false}}, "x2": {"datum": 0.352}}},
     {"transform": [{"fold": ["Yakıt Maliyeti", "Yalıtım Maliyeti", "Toplam Maliyet"], "as": ["s", "v"]}], "mark": {"type": "line", "interpolate": "monotone", "strokeWidth": 1.6},
      "encoding": {
        "x": {"field": "x", "type": "quantitative", "scale": {"domain": [-0.0533, 0.44957], "nice": false, "zero": false}, "axis": {"title": "YALITIM KALINLIĞI  (m)", "values": [0, 0.05, 0.1, 0.15, 0.2, 0.25, 0.3, 0.35], "format": ".2~f", "labelExpr": "replace(datum.label, '.', ',')", "offset": -34.3, "labelPadding": 9, "titleX": 158.4, "titleY": 27.7}},
        "color": {"field": "s", "type": "nominal", "scale": {"domain": ["Yakıt Maliyeti", "Yalıtım Maliyeti", "Toplam Maliyet"], "range": ["#7476B4", "#A3325F", "#A6C86A"]},
          "legend": {"title": null, "orient": "none", "legendX": 288.7, "legendY": 92, "rowPadding": 2.7,
            "encode": {"symbols": {"update": {
              "shape": {"signal": "datum.value === 'Yakıt Maliyeti' ? 'M-2.1,0H2.1M0,-0.95L0.8,0L0,0.95L-0.8,0Z' : datum.value === 'Yalıtım Maliyeti' ? 'M-2.1,0H2.1M-0.75,-0.75H0.75V0.75H-0.75Z' : 'M-2.1,0H2.1M0,-0.85L0.9,0.7H-0.9Z'"},
              "stroke": {"signal": "datum.value === 'Yakıt Maliyeti' ? '#7476B4' : datum.value === 'Yalıtım Maliyeti' ? '#A3325F' : '#A6C86A'"},
              "fill": {"signal": "datum.value === 'Yakıt Maliyeti' ? '#5E60A0' : datum.value === 'Yalıtım Maliyeti' ? '#9C2C5A' : '#B2C684'"},
              "strokeWidth": {"value": 1.3}, "opacity": {"value": 1}}}}}}}},
     {"transform": [{"fold": ["Yakıt Maliyeti", "Yalıtım Maliyeti", "Toplam Maliyet"], "as": ["s", "v"]}], "mark": {"type": "point", "filled": true, "size": 30, "opacity": 1},
      "encoding": {
        "x": {"field": "x", "type": "quantitative", "scale": {"domain": [-0.0533, 0.44957], "nice": false, "zero": false}},
        "fill": {"field": "s", "type": "nominal", "scale": {"domain": ["Yakıt Maliyeti", "Yalıtım Maliyeti", "Toplam Maliyet"], "range": ["#5E60A0", "#9C2C5A", "#B2C684"]}, "legend": null},
        "shape": {"field": "s", "type": "nominal", "scale": {"domain": ["Yakıt Maliyeti", "Yalıtım Maliyeti", "Toplam Maliyet"], "range": ["diamond", "square", "triangle-up"]}, "legend": null}}}
   ]}
], "spacing": 0, "bounds": "flush", "resolve": {"scale": {"color": "independent", "shape": "independent", "fill": "independent"}, "legend": {"color": "independent", "shape": "independent", "fill": "independent"}}},
{"hconcat": [
  {"width": 303, "height": 24, "data": {"values": [{}]}, "mark": {"type": "text", "text": "", "fontSize": 1}},
  {"width": 354, "height": 24, "data": {"values": [{"t": "(e)"}]}, "mark": {"type": "text", "baseline": "middle", "font": "Liberation Serif", "fontSize": 17, "color": "#111"}, "encoding": {"text": {"field": "t"}}}
], "spacing": 0, "bounds": "flush"},
{"width": 1, "height": 23.5, "data": {"values": [{}]}, "mark": {"type": "text", "text": "", "fontSize": 1}},
{"hconcat": [
  {"width": 204, "height": 18, "data": {"values": [{}]}, "mark": {"type": "text", "text": "", "fontSize": 1}},
  {"width": 2, "height": 18, "data": {"values": [{"t": "Şekil 3."}]}, "mark": {"type": "text", "align": "left", "baseline": "middle", "font": "Liberation Serif", "fontSize": 14.3, "fontWeight": "bold", "fontStyle": "italic", "color": "#C0272D"}, "encoding": {"text": {"field": "t"}}},
  {"width": 46, "height": 18, "data": {"values": [{}]}, "mark": {"type": "text", "text": "", "fontSize": 1}},
  {"width": 2, "height": 18, "data": {"values": [{"t": "İstanbul ilinde doğal gaz yakıtı kullanımında a) Taş yünü b) Cam yünü c) XPS d) EPS"}]}, "mark": {"type": "text", "align": "left", "baseline": "middle", "font": "Liberation Serif", "fontSize": 14.3, "fontStyle": "italic", "color": "#C0272D"}, "encoding": {"text": {"field": "t"}}}
], "spacing": 0, "bounds": "flush"},
{"width": 960, "height": 18, "data": {"values": [{"t": "e) Poliüretan yalıtım malzemeleri için optimum yalıtım kalınlığı"}]}, "mark": {"type": "text", "baseline": "middle", "font": "Liberation Serif", "fontSize": 14.3, "fontStyle": "italic", "color": "#C0272D"}, "encoding": {"text": {"field": "t"}}},
{"width": 1, "height": 267, "data": {"values": [{}]}, "mark": {"type": "text", "text": "", "fontSize": 1}},
{"hconcat": [
  {"width": 116, "height": 40, "data": {"values": [{}]}, "mark": {"type": "text", "text": "", "fontSize": 1}},
  {"width": 2, "height": 40, "data": {"values": [{"t": "12"}]}, "mark": {"type": "text", "align": "left", "baseline": "alphabetic", "font": "Liberation Sans Narrow, Liberation Sans, sans-serif", "fontSize": 21, "fontWeight": "bold", "color": "#111"}, "encoding": {"text": {"field": "t"}}},
  {"width": 26, "height": 40, "data": {"values": [{}]}, "mark": {"type": "text", "text": "", "fontSize": 1}},
  {"width": 2, "height": 40, "data": {"values": [{"t": "Tesisat Mühendisliği - Sayı 131 - Eylül/Ekim 2012"}]}, "mark": {"type": "text", "align": "left", "baseline": "alphabetic", "font": "Liberation Sans Narrow, Liberation Sans, sans-serif", "fontSize": 8.5, "fontStyle": "italic", "color": "#333"}, "encoding": {"text": {"field": "t"}}}
], "spacing": 0, "bounds": "flush"}
]
}
